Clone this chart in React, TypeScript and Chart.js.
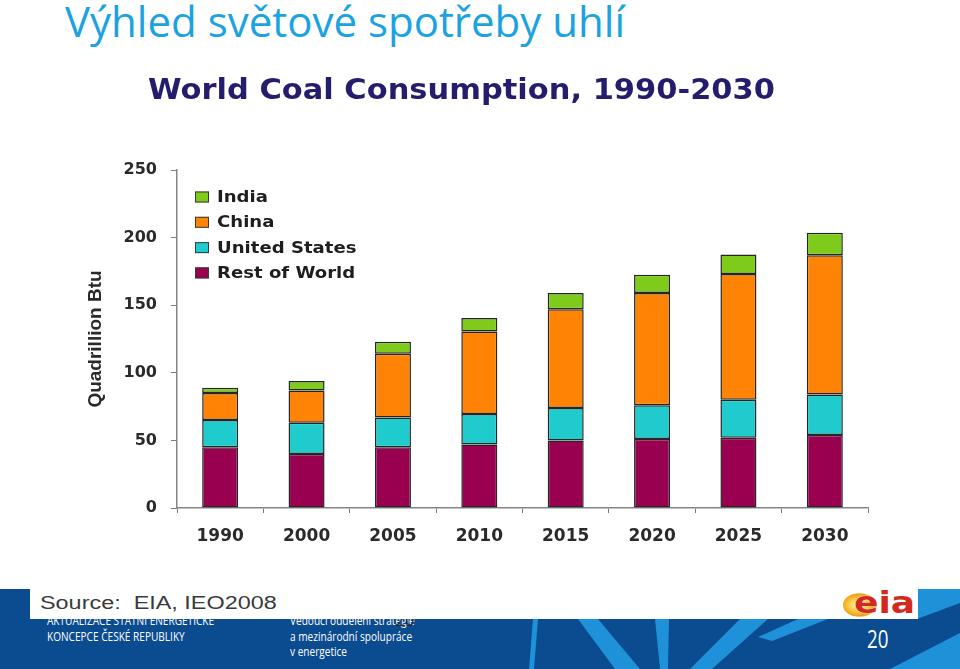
import React, { useEffect, useRef } from "react";
import { Chart, registerables } from "chart.js";

Chart.register(...registerables);

// ---- data ----
const years = ["1990", "2000", "2005", "2010", "2015", "2020", "2025", "2030"];
const restOfWorld = [45, 40, 45, 47, 50, 51, 52, 54];
const unitedStates = [20, 23, 22, 22.5, 24, 25, 28, 30];
const china = [20, 24, 47, 61, 73, 83, 93, 103];
const india = [4, 7, 9, 10, 12, 13.5, 14.5, 16.5];
const seriesNames = ["Rest of World", "United States", "China", "India"];
const seriesColors = ["#990050", "#1fcbcd", "#ff8405", "#7fcb1c"];
const yMin = 0;
const yMax = 250;
const yStep = 50;
const chartTitle = "World Coal Consumption, 1990-2030";
const yAxisTitle = "Quadrillion Btu";

const overlayPlugin = {
  id: "overlay",
  afterDraw(chart: any) {
    const ctx = chart.ctx as CanvasRenderingContext2D;
    // chart title
    ctx.save();
    ctx.font = "bold 29px 'DejaVu Sans'";
    ctx.fillStyle = "#241c6c";
    ctx.textBaseline = "alphabetic";
    const w = ctx.measureText(chartTitle).width;
    ctx.translate(148, 99);
    ctx.scale(627 / w, 1);
    ctx.fillText(chartTitle, 0, 0);
    ctx.restore();

    // legend (reverse order, inside chart area)
    const ds = chart.data.datasets.slice().reverse();
    ds.forEach((d: any, i: number) => {
      const cy = 197 + i * 25.3;
      ctx.save();
      ctx.fillStyle = d.backgroundColor;
      ctx.fillRect(195, cy - 5.5, 14, 11);
      ctx.strokeStyle = "#3a3a3a";
      ctx.lineWidth = 1;
      ctx.strokeRect(195.5, cy - 5, 13, 10);
      ctx.translate(217, cy + 1);
      ctx.scale(1.13, 1);
      ctx.font = "bold 16px 'DejaVu Sans'";
      ctx.fillStyle = "#1e1e1e";
      ctx.textBaseline = "middle";
      ctx.fillText(d.label, 0, 0);
      ctx.restore();
    });
  },
};

export default function App() {
  const ref = useRef<HTMLCanvasElement>(null);

  useEffect(() => {
    if (!ref.current) return;
    const values = [restOfWorld, unitedStates, china, india];
    const chart = new Chart(ref.current, {
      type: "bar",
      data: {
        labels: years,
        datasets: values.map((v, i) => ({
          label: seriesNames[i],
          data: v,
          backgroundColor: seriesColors[i],
          borderColor: "#262626",
          borderWidth: 1.5,
          borderSkipped: false,
          categoryPercentage: 1,
          barPercentage: 0.417,
        })),
      },
      options: {
        responsive: false,
        animation: false,
        layout: { padding: { left: 60, right: 92, top: 170, bottom: 111 } },
        plugins: {
          legend: { display: false },
          tooltip: { enabled: false },
          title: { display: false },
        },
        scales: {
          x: {
            stacked: true,
            grid: {
              display: true,
              drawOnChartArea: false,
              drawTicks: true,
              tickLength: 5,
              color: "#7a7a7a",
              offset: true,
            },
            border: { display: true, color: "#858585", width: 1.5 },
            ticks: {
              color: "#2a2a2a",
              font: { family: "'DejaVu Sans'", size: 17, weight: "bold" },
              padding: 13,
            },
            afterFit: (s: any) => {
              s.height = 50;
            },
          },
          y: {
            stacked: true,
            min: yMin,
            max: yMax,
            ticks: {
              stepSize: yStep,
              color: "#2a2a2a",
              font: { family: "'DejaVu Sans'", size: 16, weight: "bold" },
              padding: 14,
            },
            grid: {
              display: true,
              drawOnChartArea: false,
              drawTicks: true,
              tickLength: 6,
              color: "#7a7a7a",
            },
            border: { display: true, color: "#858585", width: 1.5 },
            title: {
              display: true,
              text: yAxisTitle,
              color: "#2a2a2a",
              font: { family: "'Liberation Sans'", size: 19, weight: "bold" },
              padding: { top: 24, bottom: 0 },
            },
            afterFit: (s: any) => {
              s.width = 117;
            },
          },
        },
      },
      plugins: [overlayPlugin],
    } as any);
    return () => chart.destroy();
  }, []);

  const light = "#1f91d9";
  return (
    <div
      style={{
        position: "absolute",
        left: 0,
        top: 0,
        width: 960,
        height: 669,
        overflow: "hidden",
        background: "#fff",
        fontFamily: "'Open Sans', sans-serif",
      }}
    >
      <div
        style={{
          position: "absolute",
          left: 65,
          top: 0,
          fontSize: 42,
          lineHeight: "42px",
          color: "#1ba3e1",
          whiteSpace: "nowrap",
        }}
      >
        Výhled světové spotřeby uhlí
      </div>

      {/* footer band */}
      <div style={{ position: "absolute", left: 0, top: 589, width: 960, height: 80, background: "#0b4b8f" }}>
        <svg width={960} height={80} style={{ position: "absolute", left: 0, top: 0 }}>
          <polygon points="533,30 538,30 534,80 529,80" fill={light} />
          <polygon points="578,30 598,30 640,80 615,80" fill={light} />
          <polygon points="655,30 669,30 668,80 660,80" fill={light} />
          <polygon points="740,30 768,30 712,80 690,80" fill={light} />
          <polygon points="798,30 828,30 772,52 758,48" fill={light} />
          <polygon points="917,0 960,0 960,14 917,30" fill={light} />
          <polygon points="960,44 960,80 890,80" fill={light} />
        </svg>
        <div
          style={{
            position: "absolute",
            left: 47,
            top: 24,
            fontSize: 12,
            lineHeight: "16px",
            color: "#fff",
            whiteSpace: "nowrap",
            transform: "scaleX(0.84)",
            transformOrigin: "left top",
          }}
        >
          AKTUALIZACE STÁTNÍ ENERGETICKÉ
          <br />
          KONCEPCE ČESKÉ REPUBLIKY
        </div>
        <div
          style={{
            position: "absolute",
            left: 290,
            top: 24,
            fontSize: 12,
            lineHeight: "15.5px",
            color: "#fff",
            whiteSpace: "nowrap",
            transform: "scaleX(0.84)",
            transformOrigin: "left top",
          }}
        >
          Vedoucí oddělení strategie
          <br />
          a mezinárodní spolupráce
          <br />
          v energetice
        </div>
        <div
          style={{
            position: "absolute",
            left: 396,
            top: 20,
            fontSize: 20,
            lineHeight: "20px",
            color: "#2a2a2a",
            transform: "scaleX(0.8)",
            transformOrigin: "left top",
          }}
        >
          20
        </div>
        <div
          style={{
            position: "absolute",
            left: 867,
            top: 37,
            fontSize: 25,
            lineHeight: "25px",
            color: "#fff",
            transform: "scaleX(0.75)",
            transformOrigin: "left top",
          }}
        >
          20
        </div>
      </div>

      {/* white chart image box */}
      <div style={{ position: "absolute", left: 30, top: 50, width: 888, height: 569, background: "#fff" }} />
      <div
        style={{
          position: "absolute",
          left: 40,
          top: 594,
          fontFamily: "'Liberation Sans', Arial, sans-serif",
          fontSize: 18,
          lineHeight: "18px",
          color: "#3a3a3a",
          whiteSpace: "pre",
          transform: "scaleX(1.3)",
          transformOrigin: "left top",
        }}
      >
        {"Source:  EIA, IEO2008"}
      </div>
      {/* eia logo */}
      <div style={{ position: "absolute", left: 843, top: 588, width: 74, height: 32 }}>
        <div
          style={{
            position: "absolute",
            left: 0,
            top: 5,
            width: 34,
            height: 24,
            borderRadius: "50%",
            background: "radial-gradient(ellipse at 45% 50%, #fff8c0 0%, #f8c030 45%, #f39a1a 65%, rgba(243,154,26,0) 75%)",
          }}
        />
        <div
          style={{
            position: "absolute",
            left: 11,
            top: 0,
            fontFamily: "'DejaVu Sans'",
            fontWeight: "bold",
            fontSize: 30,
            lineHeight: "30px",
            color: "#d42a1e",
            transform: "scaleX(1.2)",
            transformOrigin: "left top",
            textShadow: "0 0 1px #fff, 0 0 1px #fff",
          }}
        >
          eia
        </div>
      </div>

      <canvas ref={ref} width={960} height={669} style={{ position: "absolute", left: 0, top: 0 }} />
    </div>
  );
}
